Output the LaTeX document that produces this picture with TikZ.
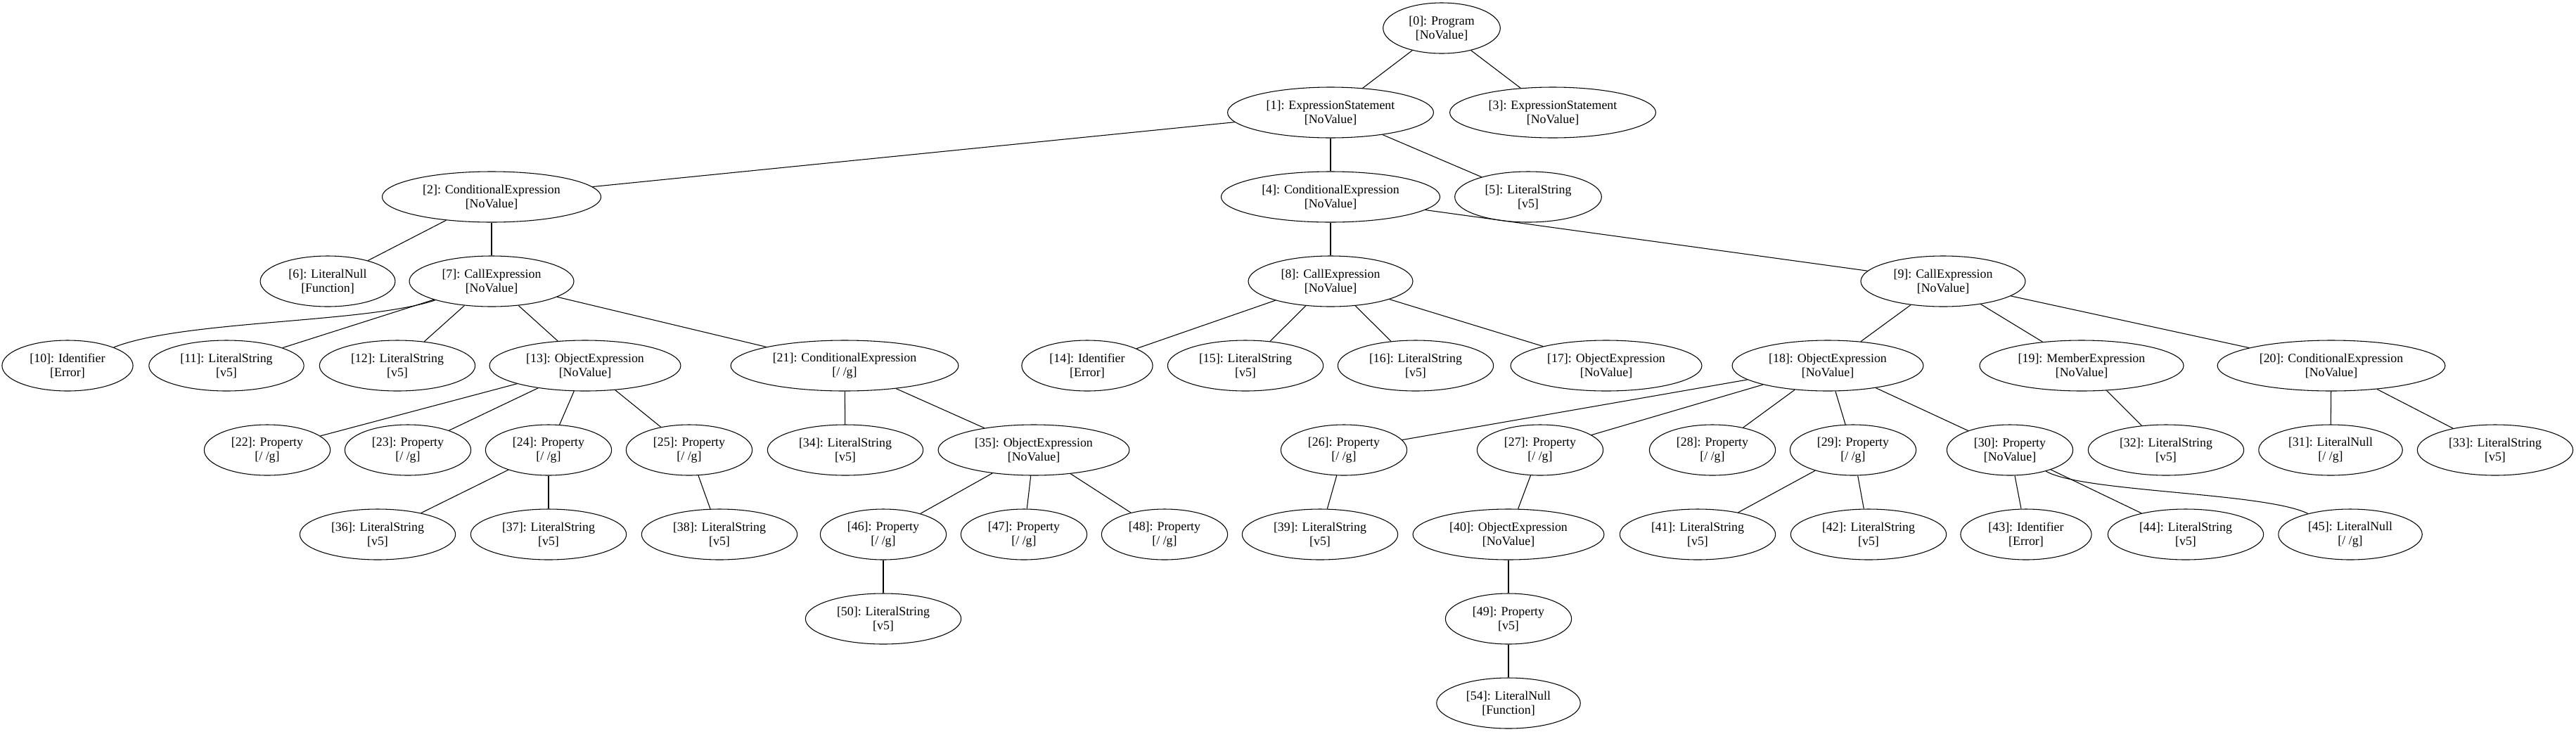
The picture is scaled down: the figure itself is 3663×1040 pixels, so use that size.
\documentclass[tikz,border=0pt]{standalone}
\usepackage{fontspec}
\setmainfont{Liberation Serif}
\usetikzlibrary{shapes.geometric}
\newcommand{\lblfont}{\fontsize{13.4pt}{15pt}\selectfont}
\newcommand{\twol}[2]{#1\\{}#2}
\tikzset{
  nd/.style={draw, ellipse, line width=0.8pt, inner xsep=9.2pt, inner ysep=1pt,
    minimum height=54pt, align=center, font=\lblfont},
  ed/.style={line width=0.8pt}
}
\begin{document}
\begin{tikzpicture}[x=0.75pt, y=-0.75pt]
\useasboundingbox (0,0) rectangle (3663,1040);
% row 0
\node[nd] (n0) at (2050,40) {\twol{[0]: Program}{[NoValue]}};
% row 1
\node[nd] (n1) at (1892,160) {\twol{[1]: ExpressionStatement}{[NoValue]}};
\node[nd] (n3) at (2208,160) {\twol{[3]: ExpressionStatement}{[NoValue]}};
% row 2
\node[nd] (n2) at (699,280) {\twol{[2]: ConditionalExpression}{[NoValue]}};
\node[nd] (n4) at (1892,280) {\twol{[4]: ConditionalExpression}{[NoValue]}};
\node[nd] (n5) at (2173,280) {\twol{[5]: LiteralString}{[v5]}};
% row 3
\node[nd] (n6) at (466,400) {\twol{[6]: LiteralNull}{[Function]}};
\node[nd] (n7) at (699,400) {\twol{[7]: CallExpression}{[NoValue]}};
\node[nd] (n8) at (1892,400) {\twol{[8]: CallExpression}{[NoValue]}};
\node[nd] (n9) at (2763,400) {\twol{[9]: CallExpression}{[NoValue]}};
% row 4
\node[nd] (n10) at (96,520) {\twol{[10]: Identifier}{[Error]}};
\node[nd] (n11) at (322,520) {\twol{[11]: LiteralString}{[v5]}};
\node[nd] (n12) at (565,520) {\twol{[12]: LiteralString}{[v5]}};
\node[nd] (n13) at (832,520) {\twol{[13]: ObjectExpression}{[NoValue]}};
\node[nd] (n21) at (1201,520) {\twol{[21]: ConditionalExpression}{[/ /g]}};
\node[nd] (n14) at (1546,520) {\twol{[14]: Identifier}{[Error]}};
\node[nd] (n15) at (1771,520) {\twol{[15]: LiteralString}{[v5]}};
\node[nd] (n16) at (2013,520) {\twol{[16]: LiteralString}{[v5]}};
\node[nd] (n17) at (2284,520) {\twol{[17]: ObjectExpression}{[NoValue]}};
\node[nd] (n18) at (2599,520) {\twol{[18]: ObjectExpression}{[NoValue]}};
\node[nd] (n19) at (2960,520) {\twol{[19]: MemberExpression}{[NoValue]}};
\node[nd] (n20) at (3315,520) {\twol{[20]: ConditionalExpression}{[NoValue]}};
% row 5
\node[nd] (n22) at (380,640) {\twol{[22]: Property}{[/ /g]}};
\node[nd] (n23) at (580,640) {\twol{[23]: Property}{[/ /g]}};
\node[nd] (n24) at (780,640) {\twol{[24]: Property}{[/ /g]}};
\node[nd] (n25) at (980,640) {\twol{[25]: Property}{[/ /g]}};
\node[nd] (n34) at (1202,640) {\twol{[34]: LiteralString}{[v5]}};
\node[nd] (n35) at (1470,640) {\twol{[35]: ObjectExpression}{[NoValue]}};
\node[nd] (n26) at (1911,640) {\twol{[26]: Property}{[/ /g]}};
\node[nd] (n27) at (2190,640) {\twol{[27]: Property}{[/ /g]}};
\node[nd] (n28) at (2435,640) {\twol{[28]: Property}{[/ /g]}};
\node[nd] (n29) at (2635,640) {\twol{[29]: Property}{[/ /g]}};
\node[nd] (n30) at (2858,640) {\twol{[30]: Property}{[NoValue]}};
\node[nd] (n32) at (3080,640) {\twol{[32]: LiteralString}{[v5]}};
\node[nd] (n31) at (3314,640) {\twol{[31]: LiteralNull}{[/ /g]}};
\node[nd] (n33) at (3548,640) {\twol{[33]: LiteralString}{[v5]}};
% row 6
\node[nd] (n36) at (537,760) {\twol{[36]: LiteralString}{[v5]}};
\node[nd] (n37) at (780,760) {\twol{[37]: LiteralString}{[v5]}};
\node[nd] (n38) at (1023,760) {\twol{[38]: LiteralString}{[v5]}};
\node[nd] (n46) at (1256,760) {\twol{[46]: Property}{[/ /g]}};
\node[nd] (n47) at (1456,760) {\twol{[47]: Property}{[/ /g]}};
\node[nd] (n48) at (1656,760) {\twol{[48]: Property}{[/ /g]}};
\node[nd] (n39) at (1877,760) {\twol{[39]: LiteralString}{[v5]}};
\node[nd] (n40) at (2145,760) {\twol{[40]: ObjectExpression}{[NoValue]}};
\node[nd] (n41) at (2414,760) {\twol{[41]: LiteralString}{[v5]}};
\node[nd] (n42) at (2657,760) {\twol{[42]: LiteralString}{[v5]}};
\node[nd] (n43) at (2881,760) {\twol{[43]: Identifier}{[Error]}};
\node[nd] (n44) at (3108,760) {\twol{[44]: LiteralString}{[v5]}};
\node[nd] (n45) at (3342,760) {\twol{[45]: LiteralNull}{[/ /g]}};
% row 7
\node[nd] (n50) at (1256,880) {\twol{[50]: LiteralString}{[v5]}};
\node[nd] (n49) at (2145,880) {\twol{[49]: Property}{[v5]}};
% row 8
\node[nd] (n54) at (2145,1000) {\twol{[54]: LiteralNull}{[Function]}};
% edges
\draw[ed] (n0) -- (n1);
\draw[ed] (n0) -- (n3);
\draw[ed] (n1) -- (n2);
\draw[ed] (n1) -- (n4);
\draw[ed] (n1) -- (n5);
\draw[ed] (n2) -- (n6);
\draw[ed] (n2) -- (n7);
\draw[ed] (n4) -- (n8);
\draw[ed] (n4) -- (n9);
\draw[ed] (n7) .. controls (520,460) and (260,455) .. (n10);
\draw[ed] (n7) -- (n11);
\draw[ed] (n7) -- (n12);
\draw[ed] (n7) -- (n13);
\draw[ed] (n7) -- (n21);
\draw[ed] (n8) -- (n14);
\draw[ed] (n8) -- (n15);
\draw[ed] (n8) -- (n16);
\draw[ed] (n8) -- (n17);
\draw[ed] (n9) -- (n18);
\draw[ed] (n9) -- (n19);
\draw[ed] (n9) -- (n20);
\draw[ed] (n13) -- (n22);
\draw[ed] (n13) -- (n23);
\draw[ed] (n13) -- (n24);
\draw[ed] (n13) -- (n25);
\draw[ed] (n21) -- (n34);
\draw[ed] (n21) -- (n35);
\draw[ed] (n18) -- (n26);
\draw[ed] (n18) -- (n27);
\draw[ed] (n18) -- (n28);
\draw[ed] (n18) -- (n29);
\draw[ed] (n18) -- (n30);
\draw[ed] (n19) -- (n32);
\draw[ed] (n20) -- (n31);
\draw[ed] (n20) -- (n33);
\draw[ed] (n24) -- (n36);
\draw[ed] (n24) -- (n37);
\draw[ed] (n25) -- (n38);
\draw[ed] (n35) -- (n46);
\draw[ed] (n35) -- (n47);
\draw[ed] (n35) -- (n48);
\draw[ed] (n46) -- (n50);
\draw[ed] (n26) -- (n39);
\draw[ed] (n27) -- (n40);
\draw[ed] (n29) -- (n41);
\draw[ed] (n29) -- (n42);
\draw[ed] (n30) -- (n43);
\draw[ed] (n30) -- (n44);
\draw[ed] (n30) .. controls (2960,700) and (3220,700) .. (n45);
\draw[ed] (n40) -- (n49);
\draw[ed] (n49) -- (n54);
\end{tikzpicture}
\end{document}
